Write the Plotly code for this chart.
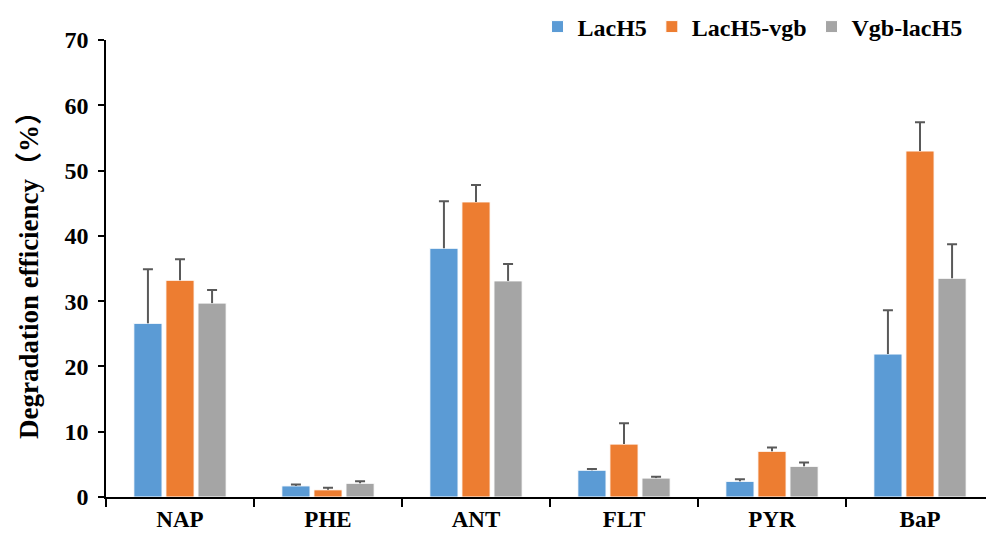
import plotly.graph_objects as go

categories = ["NAP", "PHE", "ANT", "FLT", "PYR", "BaP"]

lach5 = [26.6, 1.7, 38.1, 4.1, 2.4, 21.9]
lach5_err = [8.3, 0.2, 7.2, 0.2, 0.3, 6.7]

lach5_vgb = [33.2, 1.1, 45.2, 8.1, 7.0, 53.0]
lach5_vgb_err = [3.2, 0.3, 2.6, 3.2, 0.6, 4.4]

vgb_lach5 = [29.7, 2.1, 33.1, 2.9, 4.7, 33.5]
vgb_lach5_err = [2.0, 0.3, 2.6, 0.2, 0.6, 5.2]

series = [
    ("LacH5", lach5, lach5_err, "#5B9BD5"),
    ("LacH5-vgb", lach5_vgb, lach5_vgb_err, "#ED7D31"),
    ("Vgb-lacH5", vgb_lach5, vgb_lach5_err, "#A5A5A5"),
]

FONT = "Liberation Serif, Times New Roman, Noto Sans CJK SC, serif"
ERR_COLOR = "#595959"

fig = go.Figure()
for i, (name, vals, errs, color) in enumerate(series):
    grp = str(i)
    # bar with an upward stem (no caps)
    fig.add_trace(go.Bar(
        name=name,
        x=categories,
        y=vals,
        offsetgroup=grp,
        marker=dict(color=color, line=dict(color="white", width=1)),
        error_y=dict(type="data", array=errs, symmetric=False, arrayminus=[0] * len(errs),
                     color=ERR_COLOR, thickness=2, width=0),
    ))
for i, (name, vals, errs, color) in enumerate(series):
    grp = str(i)
    # transparent bar reaching value + error, carrying only the top cap
    tops = [v + e for v, e in zip(vals, errs)]
    fig.add_trace(go.Bar(
        x=categories,
        y=tops,
        offsetgroup=grp,
        showlegend=False,
        hoverinfo="skip",
        marker=dict(color="rgba(0,0,0,0)", line=dict(width=0)),
        error_y=dict(type="data", array=[0] * len(tops), color=ERR_COLOR, thickness=2, width=5),
    ))

fig.update_layout(
    width=986,
    height=540,
    barmode="group",
    bargap=0.35,
    bargroupgap=0.12,
    plot_bgcolor="white",
    paper_bgcolor="white",
    margin=dict(l=106, r=0, t=40, b=43, autoexpand=False),
    font=dict(family=FONT, color="black"),
    legend=dict(
        orientation="h",
        x=0.979, xanchor="right",
        yref="container", y=0.95, yanchor="middle",
        font=dict(family=FONT, size=24, color="black", weight="bold"),
        tracegroupgap=0,
        bgcolor="rgba(0,0,0,0)",
    ),
    xaxis=dict(
        range=[-0.5, 5.446],
        showline=True, linecolor="black", linewidth=2,
        ticks="outside", tickson="boundaries", ticklen=8, tickwidth=2, tickcolor="black",
        tickfont=dict(family=FONT, size=23, color="black", weight="bold"),
        showgrid=False, zeroline=False,
    ),
    yaxis=dict(
        range=[0, 70],
        dtick=10,
        showline=True, linecolor="black", linewidth=1.5,
        ticks="outside", ticklen=6, tickwidth=1.5, tickcolor="black",
        ticklabelstandoff=5,
        tickfont=dict(family=FONT, size=24, color="black", weight="bold"),
        showgrid=False, zeroline=False,
        title=dict(text="Degradation efficiency（%）",
                   font=dict(family=FONT, size=27, color="black", weight="bold"),
                   standoff=18),
    ),
)

fig.write_html("out.html")
